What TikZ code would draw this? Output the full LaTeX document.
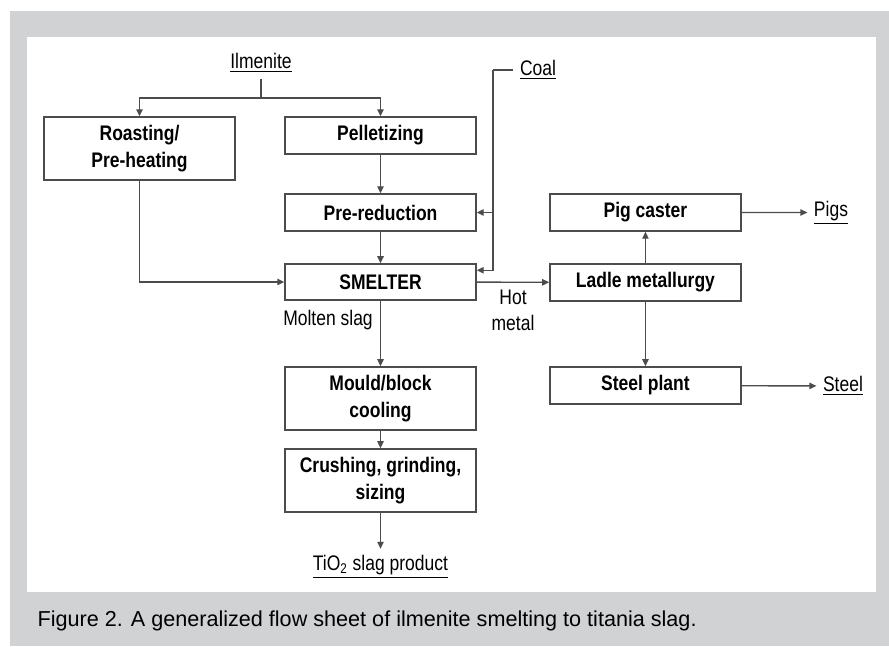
\documentclass[tikz,border=0pt]{standalone}
\usepackage{fontspec}
\setmainfont{Liberation Sans}[FakeStretch=0.83]
\newfontfamily\capfont{Liberation Sans}
\usetikzlibrary{arrows.meta,positioning}
\tikzset{>/.tip={Triangle[length=4pt,width=3.6pt]}}
\tikzset{unit/.style={draw=black!70,line width=0.8pt,minimum width=3.82cm,minimum height=0.74cm,align=center,font=\fontsize{12}{15}\selectfont\bfseries}}
\tikzset{feed/.style={font=\fontsize{12}{14.7}\selectfont}}
\definecolor{panelgray}{RGB}{209,210,212}

\begin{document}
\begin{tikzpicture}[x=0.02cm,y=-0.02cm,on grid,line width=0.8pt,draw=black!70]
        \fill[white] (0,0) rectangle (889,646);
        \fill[panelgray] (10,11) rectangle (889,646);
        \fill[white] (27,37) rectangle (876,592);
        \useasboundingbox (0,0) rectangle (889,646);
        % slag line
        \node[unit](pellet) at (380.5,135.5){Pelletizing};
        \node[unit](prered)[below=1.54cm of pellet]{Pre-reduction};
        \node[unit,minimum height=0.72cm](smelter)[below=1.39cm of prered]{SMELTER};
        \node[unit,minimum height=1.26cm](mould)[below=2.33cm of smelter]{Mould/block\\cooling};
        \node[unit,minimum height=1.26cm](crush)[below=1.64cm of mould]{Crushing, grinding,\\sizing};
        \node[unit,minimum height=1.26cm](roast) at (139.5,148.5){Roasting/\\Pre-heating};
        % metal line
        \node[unit](pig)[right=5.3cm of prered]{Pig caster};
        \node[unit](ladle)[below=1.4cm of pig]{Ladle metallurgy};
        \node[unit](steelpl)[below=2.06cm of ladle]{Steel plant};
        % feeds and products
        \node[feed](ilm) at (261,63){\underline{Ilmenite}};
        \node[feed](coal) at (538,70){\underline{Coal}};
        \node[feed](pigs) at (831,212.5){\underline{Pigs}};
        \node[feed](steel) at (843,386){\underline{Steel}};
        \node[feed](tio) at (380.5,567){\underline{TiO\textsubscript{2} slag product}};
        \node[feed,align=center](hot) at (513,310){Hot\\metal};
        \node[feed](slag) at (328,320){Molten slag};
        \node[font=\capfont\fontsize{12.3}{14}\selectfont,anchor=west](cap) at (31,621){Figure 2. A generalized flow sheet of ilmenite smelting to titania slag.};
        \coordinate (ilmsplit) at (261,98);
        \coordinate (coaltop) at (493,70);
        \draw (ilm) -- (ilmsplit);
        \draw[->] (ilmsplit) -| (roast);
        \draw[->] (ilmsplit) -| (pellet);
        \draw[->] (pellet) -- (prered);
        \draw[->] (prered) -- (smelter);
        \draw[->] (roast) |- (smelter);
        \draw (coal) -- (coaltop);
        \draw[->] (coaltop) |- ([yshift=-0.14cm]smelter.north east);
        \draw[->] (coaltop |- prered) -- (prered);
        \draw[->] (smelter) -- (ladle);
        \draw[->] (ladle) -- (pig);
        \draw[->] (ladle) -- (steelpl);
        \draw[->] (pig) -- (pigs);
        \draw[->] (steelpl) -- (steel);
        \draw[->] (smelter) -- (mould);
        \draw[->] (mould) -- (crush);
        \draw[->] (crush) -- (tio);
      \end{tikzpicture}
\end{document}
